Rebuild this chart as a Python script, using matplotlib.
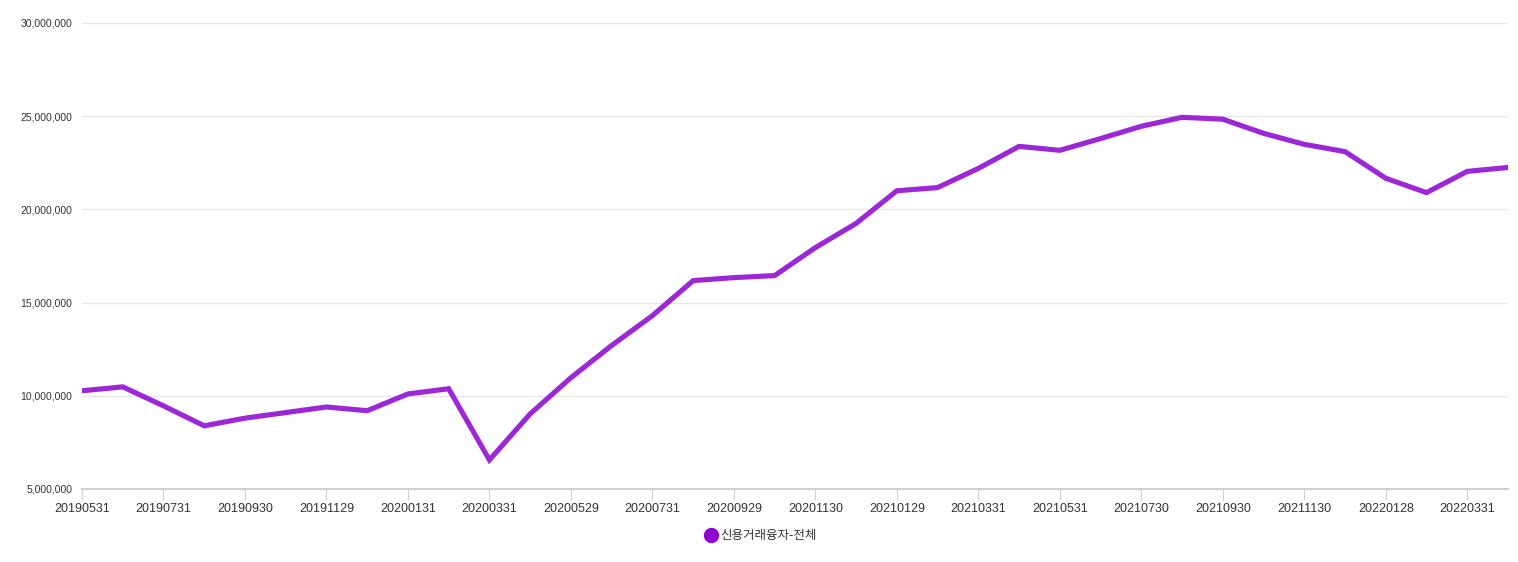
import matplotlib
matplotlib.use('Agg')
import matplotlib.pyplot as plt
from matplotlib.ticker import FuncFormatter
from matplotlib.lines import Line2D

plt.rcParams['font.family'] = ['Liberation Sans', 'Noto Sans CJK KR', 'DejaVu Sans']

# month-end trading dates
dates = ['20190531', '20190628', '20190731', '20190830', '20190930', '20191031',
         '20191129', '20191230', '20200131', '20200228', '20200331', '20200429',
         '20200529', '20200630', '20200731', '20200831', '20200929', '20201030',
         '20201130', '20201230', '20210129', '20210226', '20210331', '20210430',
         '20210531', '20210630', '20210730', '20210831', '20210930', '20211029',
         '20211130', '20211230', '20220128', '20220228', '20220331', '20220429']

# 신용거래융자-전체
values = [10270000, 10480000, 9460000, 8390000, 8800000, 9100000,
          9400000, 9200000, 10100000, 10380000, 6560000, 9030000,
          10970000, 12700000, 14300000, 16180000, 16340000, 16450000,
          17950000, 19250000, 21000000, 21170000, 22200000, 23380000,
          23170000, 23800000, 24460000, 24940000, 24840000, 24080000,
          23490000, 23100000, 21670000, 20900000, 22040000, 22250000]

series_name = '신용거래융자-전체'
y_ticks = [5000000, 10000000, 15000000, 20000000, 25000000, 30000000]

fig = plt.figure(figsize=(15.18, 5.62), dpi=100)
ax = fig.add_axes([82 / 1518, 1 - 489 / 562, (1508 - 82) / 1518, (489 - 23) / 562])

x = list(range(len(dates)))
ax.plot(x, values, color='#9b27d6', linewidth=3.7, solid_joinstyle='miter')

ax.set_xlim(0, len(dates) - 1)
ax.set_ylim(5000000, 30000000)
ax.set_yticks(y_ticks)
ax.yaxis.set_major_formatter(FuncFormatter(lambda v, p: f'{int(v):,}'))
ax.set_xticks(x[::2])
ax.set_xticklabels(dates[::2])

ax.grid(axis='y', color='#e6e6e6', linewidth=1)
ax.set_axisbelow(True)
for s in ['top', 'right', 'left']:
    ax.spines[s].set_visible(False)
ax.spines['bottom'].set_color('#d0d0d0')
ax.spines['bottom'].set_linewidth(1.5)

ax.tick_params(axis='y', length=0, labelsize=7.5, labelcolor='#333333', pad=7)
ax.tick_params(axis='x', length=8, color='#d0d0d0', labelsize=9, labelcolor='#333333', pad=2)

handle = Line2D([], [], marker='o', color='none', markerfacecolor='#9000d0',
                markeredgecolor='#9000d0', markersize=10)
fig.legend([handle], [series_name], loc='center', bbox_to_anchor=(760 / 1518, 1 - 536 / 562),
           frameon=False, handletextpad=0.1, handlelength=1.2,
           labelcolor='#333333', prop={'family': ['Noto Sans CJK KR', 'DejaVu Sans'], 'size': 9})

fig.savefig('out.png', dpi=100)
